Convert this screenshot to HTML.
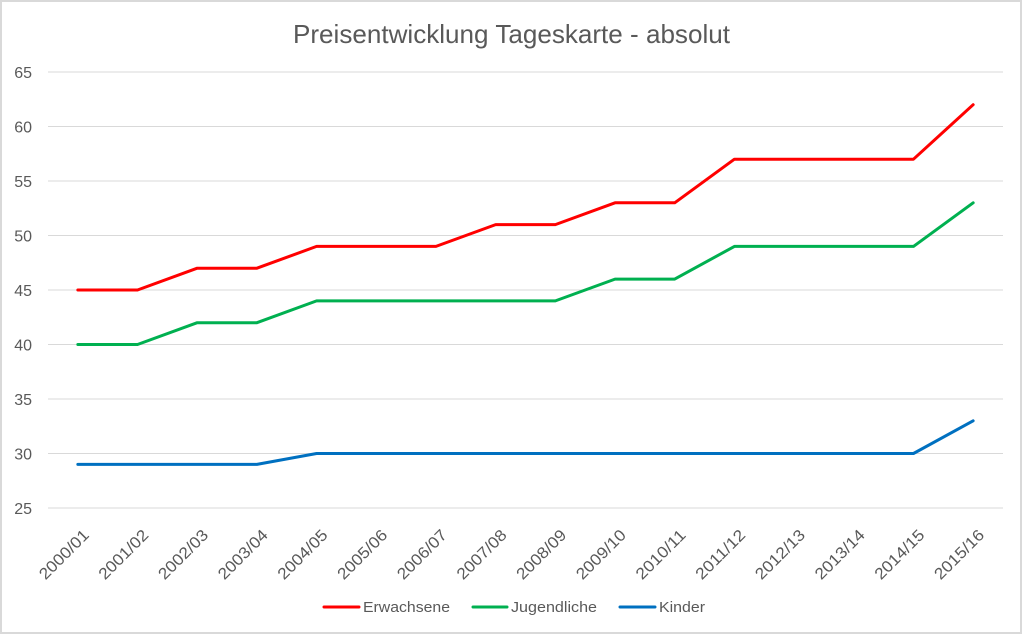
<!DOCTYPE html>
<html>
<head>
<meta charset="utf-8">
<style>
html,body{margin:0;padding:0;background:#fff;}
svg{display:block;}
text{font-family:"Liberation Sans",sans-serif;fill:#595959;}
</style>
</head>
<body>
<svg width="1024" height="635" viewBox="0 0 1024 635" xmlns="http://www.w3.org/2000/svg">
<rect x="0" y="0" width="1024" height="635" fill="#fff"/>
<rect x="1" y="1" width="1020" height="632" fill="none" stroke="#d9d9d9" stroke-width="2"/>

<text x="511.5" y="43" font-size="26" text-anchor="middle" textLength="437" lengthAdjust="spacingAndGlyphs">Preisentwicklung Tageskarte - absolut</text>

<g stroke="#d9d9d9" stroke-width="1">
<line x1="48" y1="72" x2="1003" y2="72"/>
<line x1="48" y1="126.5" x2="1003" y2="126.5"/>
<line x1="48" y1="181" x2="1003" y2="181"/>
<line x1="48" y1="235.5" x2="1003" y2="235.5"/>
<line x1="48" y1="290" x2="1003" y2="290"/>
<line x1="48" y1="344.5" x2="1003" y2="344.5"/>
<line x1="48" y1="399" x2="1003" y2="399"/>
<line x1="48" y1="453.5" x2="1003" y2="453.5"/>
<line x1="48" y1="508" x2="1003" y2="508"/>
</g>

<g font-size="16" text-anchor="end">
<text x="32" y="78">65</text>
<text x="32" y="132.5">60</text>
<text x="32" y="187">55</text>
<text x="32" y="241.5">50</text>
<text x="32" y="296">45</text>
<text x="32" y="350.5">40</text>
<text x="32" y="405">35</text>
<text x="32" y="459.5">30</text>
<text x="32" y="514">25</text>
</g>

<g font-size="16" text-anchor="end">
<text transform="translate(90,536) rotate(-45)" textLength="63" lengthAdjust="spacingAndGlyphs">2000/01</text>
<text transform="translate(149.5,536) rotate(-45)" textLength="63" lengthAdjust="spacingAndGlyphs">2001/02</text>
<text transform="translate(209.2,536) rotate(-45)" textLength="63" lengthAdjust="spacingAndGlyphs">2002/03</text>
<text transform="translate(268.9,536) rotate(-45)" textLength="63" lengthAdjust="spacingAndGlyphs">2003/04</text>
<text transform="translate(328.6,536) rotate(-45)" textLength="63" lengthAdjust="spacingAndGlyphs">2004/05</text>
<text transform="translate(388.3,536) rotate(-45)" textLength="63" lengthAdjust="spacingAndGlyphs">2005/06</text>
<text transform="translate(448,536) rotate(-45)" textLength="63" lengthAdjust="spacingAndGlyphs">2006/07</text>
<text transform="translate(507.7,536) rotate(-45)" textLength="63" lengthAdjust="spacingAndGlyphs">2007/08</text>
<text transform="translate(567.3,536) rotate(-45)" textLength="63" lengthAdjust="spacingAndGlyphs">2008/09</text>
<text transform="translate(627,536) rotate(-45)" textLength="63" lengthAdjust="spacingAndGlyphs">2009/10</text>
<text transform="translate(686.7,536) rotate(-45)" textLength="63" lengthAdjust="spacingAndGlyphs">2010/11</text>
<text transform="translate(746.4,536) rotate(-45)" textLength="63" lengthAdjust="spacingAndGlyphs">2011/12</text>
<text transform="translate(806.1,536) rotate(-45)" textLength="63" lengthAdjust="spacingAndGlyphs">2012/13</text>
<text transform="translate(865.8,536) rotate(-45)" textLength="63" lengthAdjust="spacingAndGlyphs">2013/14</text>
<text transform="translate(925.5,536) rotate(-45)" textLength="63" lengthAdjust="spacingAndGlyphs">2014/15</text>
<text transform="translate(985.2,536) rotate(-45)" textLength="63" lengthAdjust="spacingAndGlyphs">2015/16</text>
</g>

<g fill="none" stroke-width="3" stroke-linejoin="round" stroke-linecap="round">
<polyline stroke="#0070C0" points="77.84,464.4 137.53,464.4 197.22,464.4 256.91,464.4 316.59,453.5 376.28,453.5 435.97,453.5 495.66,453.5 555.34,453.5 615.03,453.5 674.72,453.5 734.41,453.5 794.09,453.5 853.78,453.5 913.47,453.5 973.16,420.8"/>
<polyline stroke="#00B050" points="77.84,344.5 137.53,344.5 197.22,322.7 256.91,322.7 316.59,300.9 376.28,300.9 435.97,300.9 495.66,300.9 555.34,300.9 615.03,279.1 674.72,279.1 734.41,246.4 794.09,246.4 853.78,246.4 913.47,246.4 973.16,202.8"/>
<polyline stroke="#FF0000" points="77.84,290 137.53,290 197.22,268.2 256.91,268.2 316.59,246.4 376.28,246.4 435.97,246.4 495.66,224.6 555.34,224.6 615.03,202.8 674.72,202.8 734.41,159.2 794.09,159.2 853.78,159.2 913.47,159.2 973.16,104.7"/>
</g>

<g stroke-width="3" stroke-linecap="round">
<line x1="324" y1="607" x2="359" y2="607" stroke="#FF0000"/>
<line x1="473" y1="607" x2="507" y2="607" stroke="#00B050"/>
<line x1="620" y1="607" x2="655" y2="607" stroke="#0070C0"/>
</g>
<g font-size="15">
<text x="363" y="612" textLength="87" lengthAdjust="spacingAndGlyphs">Erwachsene</text>
<text x="511" y="612" textLength="86" lengthAdjust="spacingAndGlyphs">Jugendliche</text>
<text x="659" y="612" textLength="46" lengthAdjust="spacingAndGlyphs">Kinder</text>
</g>
</svg>
</body>
</html>
